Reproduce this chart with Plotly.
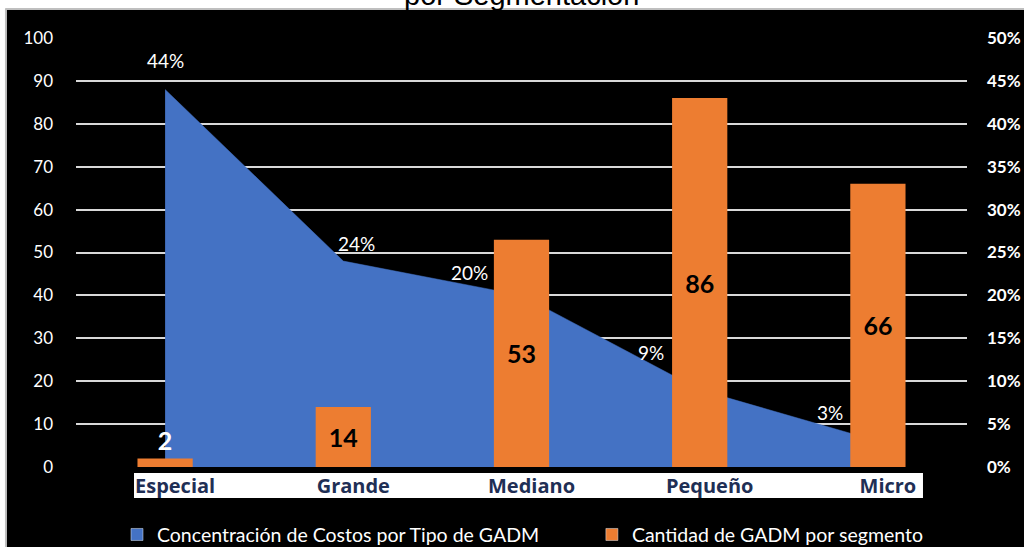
import plotly.graph_objects as go

categories = ["Especial", "Grande", "Mediano", "Pequeño", "Micro"]
cost_share = [0.44, 0.24, 0.20, 0.09, 0.03]
gadm_count = [2, 14, 53, 86, 66]
left_ticks = list(range(0, 101, 10))
right_ticks = [i * 0.05 for i in range(11)]

BLUE = "#4472C4"
ORANGE = "#ED7D31"
FONT = "Lato, Open Sans, sans-serif"
AREA_NAME = "Concentración de Costos por Tipo de GADM"
BAR_NAME = "Cantidad de GADM por segmento"

fig = go.Figure()

# area on the primary (right, percentage) axis, drawn underneath
fig.add_trace(go.Scatter(
    x=categories, y=cost_share, yaxis="y",
    mode="lines", fill="tozeroy",
    line=dict(color=BLUE, width=0.5),
    fillcolor=BLUE, showlegend=False,
    name=AREA_NAME, hoverinfo="skip",
))

# bars on the overlaying (left, count) axis, drawn on top
fig.add_trace(go.Bar(
    x=categories, y=gadm_count, yaxis="y2",
    marker=dict(color=ORANGE, line=dict(width=0)),
    width=0.31, showlegend=False,
    name=BAR_NAME,
    texttemplate="%{y}", textposition="auto",
    insidetextanchor="middle",
    insidetextfont=dict(color="black", size=25, family=FONT, weight="bold"),
    outsidetextfont=dict(color="white", size=25, family=FONT, weight="bold"),
    cliponaxis=False,
))

# legend-only entries (square swatches)
fig.add_trace(go.Bar(x=[None], y=[None], marker_color=BLUE, name=AREA_NAME,
                     legend="legend"))
fig.add_trace(go.Bar(x=[None], y=[None], marker_color=ORANGE, name=BAR_NAME,
                     legend="legend2"))

# data labels for the area series (shifts are style only)
shifts = [(0, 29), (13, 18), (-52, 23), (-49, 37), (-48, 29)]
for c, v, (dx, dy) in zip(categories, cost_share, shifts):
    fig.add_annotation(
        x=c, y=v, yref="y", text=f"{v:.0%}", showarrow=False,
        xshift=dx, yshift=dy,
        font=dict(color="white", size=19, family=FONT),
    )

# title (only its last line visible at the top edge)
fig.add_annotation(
    x=0.5, xref="paper", y=1.058, yref="paper", yanchor="bottom",
    text="por Segmentación", showarrow=False,
    font=dict(color="black", size=29, family="Liberation Sans, Arial"),
)

shapes = [
    dict(type="rect", xref="paper", yref="paper", x0=-0.2, x1=1.2,
         y0=1.0676, y1=1.2, fillcolor="white", line=dict(width=0), layer="below"),
    dict(type="rect", xref="paper", yref="paper", x0=-0.2, x1=-0.0786,
         y0=-0.3, y1=1.2, fillcolor="white", line=dict(width=0), layer="below"),
    dict(type="line", xref="paper", yref="paper", x0=-0.0795, x1=1.2,
         y0=1.0676, y1=1.0676, line=dict(color="#bfbfbf", width=2), layer="below"),
    dict(type="line", xref="paper", yref="paper", x0=-0.0786, x1=-0.0786,
         y0=-0.3, y1=1.0676, line=dict(color="#bfbfbf", width=2), layer="below"),
    dict(type="rect", xref="paper", yref="paper", x0=0.0651, x1=0.9506,
         y0=-0.0723, y1=-0.014, fillcolor="white", line=dict(width=0), layer="below"),
]

legend_style = dict(
    orientation="h", yanchor="middle", xanchor="left", y=-0.158,
    font=dict(color="white", size=19.5, family=FONT),
    bgcolor="rgba(0,0,0,0)", itemwidth=30, tracegroupgap=0,
)

fig.update_layout(
    width=1024, height=547,
    margin=dict(l=76, r=57, t=38, b=80, autoexpand=False),
    paper_bgcolor="black", plot_bgcolor="black",
    font=dict(family=FONT, color="white"),
    shapes=shapes,
    showlegend=True,
    barmode="overlay",
    legend=dict(x=0.046, **legend_style),
    legend2=dict(x=0.579, **legend_style),
    xaxis=dict(
        type="category", range=[-0.5, 4.5],
        showgrid=False, zeroline=False, showline=False, ticks="",
        tickfont=dict(color="#1F2F55", size=20, family="Open Sans", weight="bold"),
        ticklabelstandoff=5, ticklabelshift=10,
    ),
    yaxis=dict(
        range=[0, 0.5], tickvals=right_ticks, tickformat=".0%",
        side="right",
        showgrid=False, zeroline=False, showline=False, ticks="",
        tickfont=dict(color="white", size=17, family=FONT, weight="bold"),
        ticklabelstandoff=19,
    ),
    yaxis2=dict(
        range=[0, 100], tickvals=left_ticks,
        overlaying="y", side="left",
        showgrid=True, gridcolor="#d9d9d9", gridwidth=2,
        zeroline=False, showline=False, ticks="",
        tickfont=dict(color="white", size=17, family=FONT),
        ticklabelstandoff=22,
    ),
)

fig.write_html("out.html", config={"displayModeBar": False},
               post_script="document.body.style.margin='0px';")
